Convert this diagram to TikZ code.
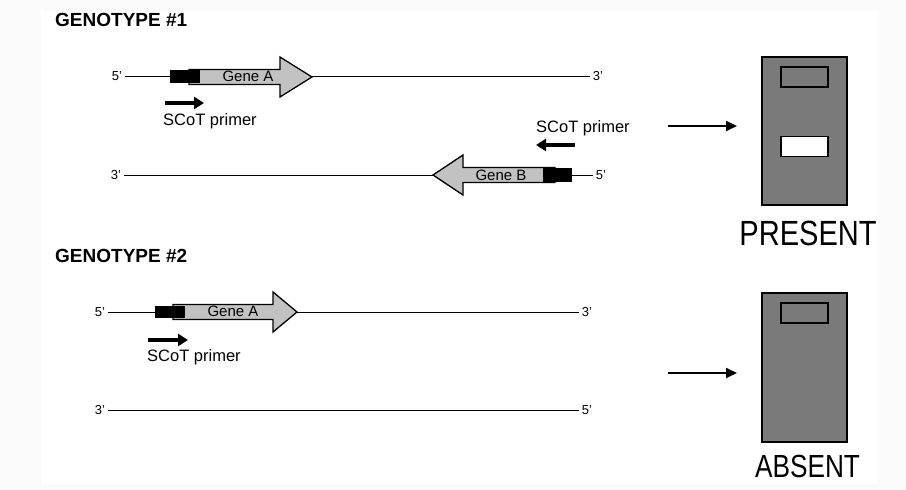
\documentclass[tikz,border=0pt]{standalone}
\usepackage{fontspec}
\setmainfont{Liberation Sans}
\usetikzlibrary{arrows.meta}
\begin{document}
\begin{tikzpicture}[x=1pt,y=-1pt,
 dna/.style={line width=1pt},
 gene/.style={draw, line width=1.3pt, fill=black!24, line join=miter},
 promoter/.style={fill=black},
 primerarrow/.style={line width=3.5pt, -{Triangle[length=10pt,width=12pt]}},
 resarrow/.style={line width=1.8pt, -{Triangle[length=11pt,width=10pt]}},
 endlabel/.style={font=\fontsize{13}{13}\selectfont, inner sep=0pt, outer sep=3pt},
 primerlabel/.style={font=\fontsize{16.5}{18}\selectfont, inner sep=0pt, anchor=west},
 genelabel/.style={font=\fontsize{15}{16}\selectfont, inner sep=0pt},
 title/.style={font=\bfseries\fontsize{19}{20}\selectfont, inner sep=0pt, anchor=base west},
 gel/.style={draw, line width=1.3pt, fill=black!52, minimum width=85pt, inner sep=0pt},
 band/.style={draw, line width=1.3pt, minimum width=47pt, minimum height=20pt, inner sep=0pt},
 result/.style={inner sep=0pt}
]
\useasboundingbox (0,0) rectangle (906,490);
\fill[black!2] (0,0) rectangle (906,490);
\fill[white] (41,11) rectangle (878,484);

% ---------- GENOTYPE #1 ----------
\node[title] (g1) at (55,26) {GENOTYPE \#1};

% strand 1
\node[endlabel] (a5) at (117,76) {5'};
\node[endlabel] (a3) at (598,76) {3'};
\draw[dna] (a5) -- (a3);
\draw[gene] (189,69.5) -- (280,69.5) -- (280,57) -- (312,77) -- (280,97) -- (280,84.5) -- (189,84.5) -- cycle;
\node[genelabel] (geneA1) at (248,76) {Gene A};
\fill[promoter] (170,70) rectangle (200,83);
\coordinate (p1s) at (165,103);
\coordinate (p1e) at (204,103);
\draw[primerarrow] (p1s) -- (p1e);
\node[primerlabel] (pl1) at (163,121) {SCoT primer};

% strand 2
\node[endlabel] (b3) at (116,175) {3'};
\node[endlabel] (b5) at (601,175) {5'};
\draw[dna] (b3) -- (b5);
\draw[gene] (555,167.5) -- (463,167.5) -- (463,155) -- (433,175) -- (463,195) -- (463,182.5) -- (555,182.5) -- cycle;
\node[genelabel] (geneB) at (501,175) {Gene B};
\fill[promoter] (543,168) rectangle (572,182);
\node[primerlabel] (pl2) at (536,128) {SCoT primer};
\coordinate (p2s) at (575,145);
\coordinate (p2e) at (536,145);
\draw[primerarrow] (p2s) -- (p2e);

% result 1
\coordinate (r1s) at (668,126);
\coordinate (r1e) at (737,126);
\draw[resarrow] (r1s) -- (r1e);
\node[gel, minimum height=148pt] (gel1) at (804.5,131) {};
\node[band, fill=black!52] (band1a) at (804.5,77) {};
\node[band, fill=white] (band1b) at (804.5,146.5) {};
\node[result] (present) at (808,233) {\scalebox{0.83}[1]{\fontsize{35}{38}\selectfont PRESENT}};

% ---------- GENOTYPE #2 ----------
\node[title] (g2) at (55,262) {GENOTYPE \#2};

% strand 3
\node[endlabel] (c5) at (100,312) {5'};
\node[endlabel] (c3) at (587,312) {3'};
\draw[dna] (c5) -- (c3);
\draw[gene] (173,304.5) -- (273,304.5) -- (273,292) -- (297,312) -- (273,332) -- (273,319.5) -- (173,319.5) -- cycle;
\node[genelabel] (geneA2) at (233,311) {Gene A};
\fill[promoter] (155,306) rectangle (185,318);
\coordinate (p3s) at (148,340);
\coordinate (p3e) at (188,340);
\draw[primerarrow] (p3s) -- (p3e);
\node[primerlabel] (pl3) at (147,357) {SCoT primer};

% strand 4
\node[endlabel] (d3) at (100,410) {3'};
\node[endlabel] (d5) at (587,410) {5'};
\draw[dna] (d3) -- (d5);

% result 2
\coordinate (r2s) at (668,373);
\coordinate (r2e) at (737,373);
\draw[resarrow] (r2s) -- (r2e);
\node[gel, minimum height=149pt] (gel2) at (804.5,367.5) {};
\node[band, fill=black!52] (band2a) at (804.5,313) {};
\node[result] (absent) at (807.5,466) {\scalebox{0.82}[1]{\fontsize{32}{35}\selectfont ABSENT}};
\end{tikzpicture}
\end{document}
